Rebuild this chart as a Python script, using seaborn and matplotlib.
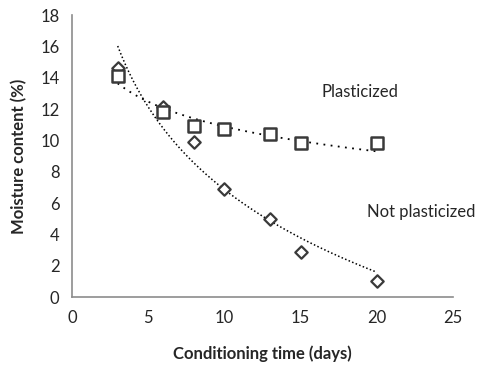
import numpy as np
import pandas as pd
import matplotlib.pyplot as plt
import seaborn as sns

sns.set_theme(style="white")
plt.rcParams["font.family"] = ["Lato", "DejaVu Sans"]

# conditioning time (days)
days = [3, 6, 8, 10, 13, 15, 20]
# moisture content (%)
plasticized = [14.1, 11.8, 10.9, 10.7, 10.4, 9.8, 9.8]
not_plasticized = [14.6, 12.1, 9.9, 6.9, 5.0, 2.9, 1.0]

df = pd.DataFrame({"days": days, "plast": plasticized, "notplast": not_plasticized})

# logarithmic trend lines, as in the spreadsheet chart
xs = np.linspace(3, 20, 200)
pp = np.polyfit(np.log(df["days"]), df["plast"], 1)
pn = np.polyfit(np.log(df["days"]), df["notplast"], 1)
trend = pd.DataFrame({"x": xs,
                      "plast": np.polyval(pp, np.log(xs)),
                      "notplast": np.polyval(pn, np.log(xs))})

fig = plt.figure(figsize=(4.83, 3.72), dpi=100)
ax = fig.add_axes([0.149, 0.2016, 0.789, 0.758])

sns.lineplot(data=trend, x="x", y="notplast", ax=ax, color="black",
             linestyle=(0, (1, 1.5)), linewidth=1.1)
sns.lineplot(data=trend, x="x", y="plast", ax=ax, color="black",
             linestyle=(0, (1, 3)), linewidth=1.3)
sns.scatterplot(data=df, x="days", y="notplast", ax=ax, marker="D", s=40,
                facecolor="white", edgecolor="#3a3a3a", linewidth=1.6, zorder=3)
sns.scatterplot(data=df, x="days", y="plast", ax=ax, marker="s", s=65,
                facecolor="white", edgecolor="#3a3a3a", linewidth=1.8, zorder=4)

ax.set_xlim(0, 25)
ax.set_ylim(0, 18)
ax.set_xticks(range(0, 26, 5))
ax.set_yticks(range(0, 19, 2))
for s in ["top", "right"]:
    ax.spines[s].set_visible(False)
for s in ["left", "bottom"]:
    ax.spines[s].set_color("#8c8c8c")
    ax.spines[s].set_linewidth(1.2)
ax.tick_params(axis="both", direction="out", length=5, width=1.2,
               color="#8c8c8c", labelsize=12, pad=4)
ax.set_xlabel("Conditioning time (days)", fontsize=12, fontweight="bold", labelpad=14)
ax.set_ylabel("Moisture content (%)", fontsize=12, fontweight="bold", labelpad=9)

ax.text(18.9, 13.1, "Plasticized", fontsize=12, ha="center", va="center")
ax.text(22.9, 5.4, "Not plasticized", fontsize=12, ha="center", va="center")

fig.savefig("out.png", dpi=100)
